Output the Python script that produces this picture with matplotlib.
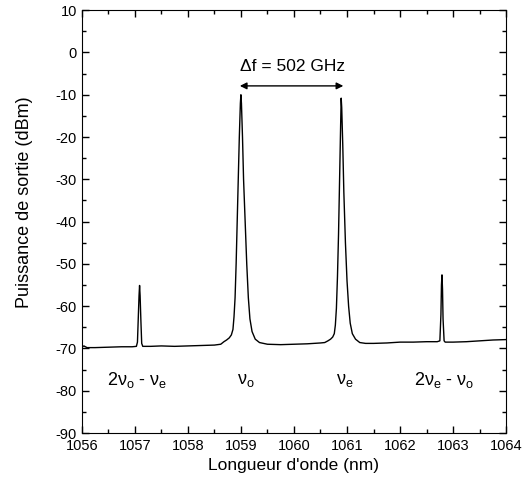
import matplotlib
matplotlib.use("Agg")
import matplotlib.pyplot as plt
from matplotlib.ticker import MultipleLocator

plt.rcParams['font.family'] = ['Liberation Sans', 'DejaVu Sans']
plt.rcParams['mathtext.fontset'] = 'custom'
plt.rcParams['mathtext.rm'] = 'Liberation Sans'
plt.rcParams['mathtext.it'] = 'Liberation Sans'
plt.rcParams['axes.unicode_minus'] = False

# spectrum (nm, dBm)
wavelength = [
    1056.00, 1056.04, 1056.10, 1056.25, 1056.50, 1056.75, 1056.95, 1057.03,
    1057.05, 1057.065, 1057.08, 1057.09, 1057.10, 1057.115, 1057.13, 1057.15,
    1057.30, 1057.50, 1057.75, 1058.00, 1058.25, 1058.50, 1058.62, 1058.68,
    1058.73, 1058.78, 1058.82, 1058.85, 1058.87, 1058.89, 1058.91, 1058.93,
    1058.95, 1058.97, 1058.99, 1059.00, 1059.01, 1059.03, 1059.05, 1059.08,
    1059.11, 1059.14, 1059.17, 1059.21, 1059.27, 1059.35, 1059.50, 1059.75,
    1060.00, 1060.25, 1060.50, 1060.58, 1060.64, 1060.69, 1060.73, 1060.76,
    1060.78, 1060.80, 1060.82, 1060.84, 1060.86, 1060.88, 1060.89, 1060.90,
    1060.92, 1060.94, 1060.97, 1061.00, 1061.03, 1061.06, 1061.10, 1061.16,
    1061.24, 1061.35, 1061.50, 1061.75, 1062.00, 1062.25, 1062.50, 1062.70,
    1062.75, 1062.77, 1062.78, 1062.79, 1062.80, 1062.81, 1062.83, 1062.85,
    1063.00, 1063.25, 1063.50, 1063.75, 1064.00,
]
power = [
    -69.7, -69.4, -69.8, -69.8, -69.7, -69.6, -69.6, -69.5,
    -68.5, -63.0, -57.5, -55.1, -57.5, -63.5, -68.8, -69.5,
    -69.5, -69.4, -69.5, -69.4, -69.3, -69.2, -69.0, -68.4,
    -68.0, -67.5, -66.8, -65.5, -62.5, -58.0, -50.0, -40.0,
    -30.0, -20.0, -12.0, -10.0, -12.0, -20.0, -30.0, -40.0,
    -50.0, -58.0, -63.0, -66.0, -67.8, -68.6, -69.0, -69.1,
    -69.0, -68.9, -68.7, -68.6, -68.2, -67.8, -67.3, -66.5,
    -64.5, -60.5, -53.0, -43.0, -30.0, -17.0, -10.8, -13.0,
    -22.0, -33.0, -45.0, -54.0, -60.0, -64.0, -66.5, -67.8,
    -68.6, -68.8, -68.8, -68.7, -68.5, -68.5, -68.4, -68.4,
    -68.2, -62.0, -55.0, -52.6, -56.0, -63.0, -68.2, -68.5,
    -68.5, -68.4, -68.2, -68.0, -67.9,
]

peak_labels = [r"2ν$_\mathrm{o}$ - ν$_\mathrm{e}$", r"ν$_\mathrm{o}$",
               r"ν$_\mathrm{e}$", r"2ν$_\mathrm{e}$ - ν$_\mathrm{o}$"]
label_x = [1057.04, 1059.10, 1060.96, 1062.83]
label_y = -77.5

fig = plt.figure(figsize=(5.24, 4.86), dpi=100)
ax = fig.add_axes([0.156, 0.109, 0.81, 0.87])

ax.plot(wavelength, power, color='black', lw=1.0)

for lx, txt in zip(label_x, peak_labels):
    ax.text(lx, label_y, txt, ha='center', va='center', fontsize=13)

# spacing arrow between the two pumps
ax.annotate('', xy=(1058.98, -7.9), xytext=(1060.93, -7.9),
            arrowprops=dict(arrowstyle='<|-|>', color='black', lw=1.0,
                            mutation_scale=10, shrinkA=0, shrinkB=0))
ax.text(1059.97, -3.3, "Δf = 502 GHz", ha='center', va='center', fontsize=12.5)

ax.set_xlim(1056, 1064)
ax.set_ylim(-90, 10)
ax.xaxis.set_major_locator(MultipleLocator(1))
ax.xaxis.set_minor_locator(MultipleLocator(0.5))
ax.yaxis.set_major_locator(MultipleLocator(10))
ax.yaxis.set_minor_locator(MultipleLocator(5))
ax.ticklabel_format(axis='x', useOffset=False)
ax.tick_params(which='both', direction='in', top=True, right=True, labelsize=10.5)
ax.tick_params(which='major', length=5, width=1)
ax.tick_params(which='minor', length=3, width=1)
ax.tick_params(axis='x', pad=4)

ax.set_xlabel("Longueur d'onde (nm)", fontsize=12.5)
ax.set_ylabel("Puissance de sortie (dBm)", fontsize=13)
ax.xaxis.set_label_coords(0.5, -0.058)
ax.yaxis.set_label_coords(-0.115, 0.545)

fig.savefig("out.png", dpi=100)
